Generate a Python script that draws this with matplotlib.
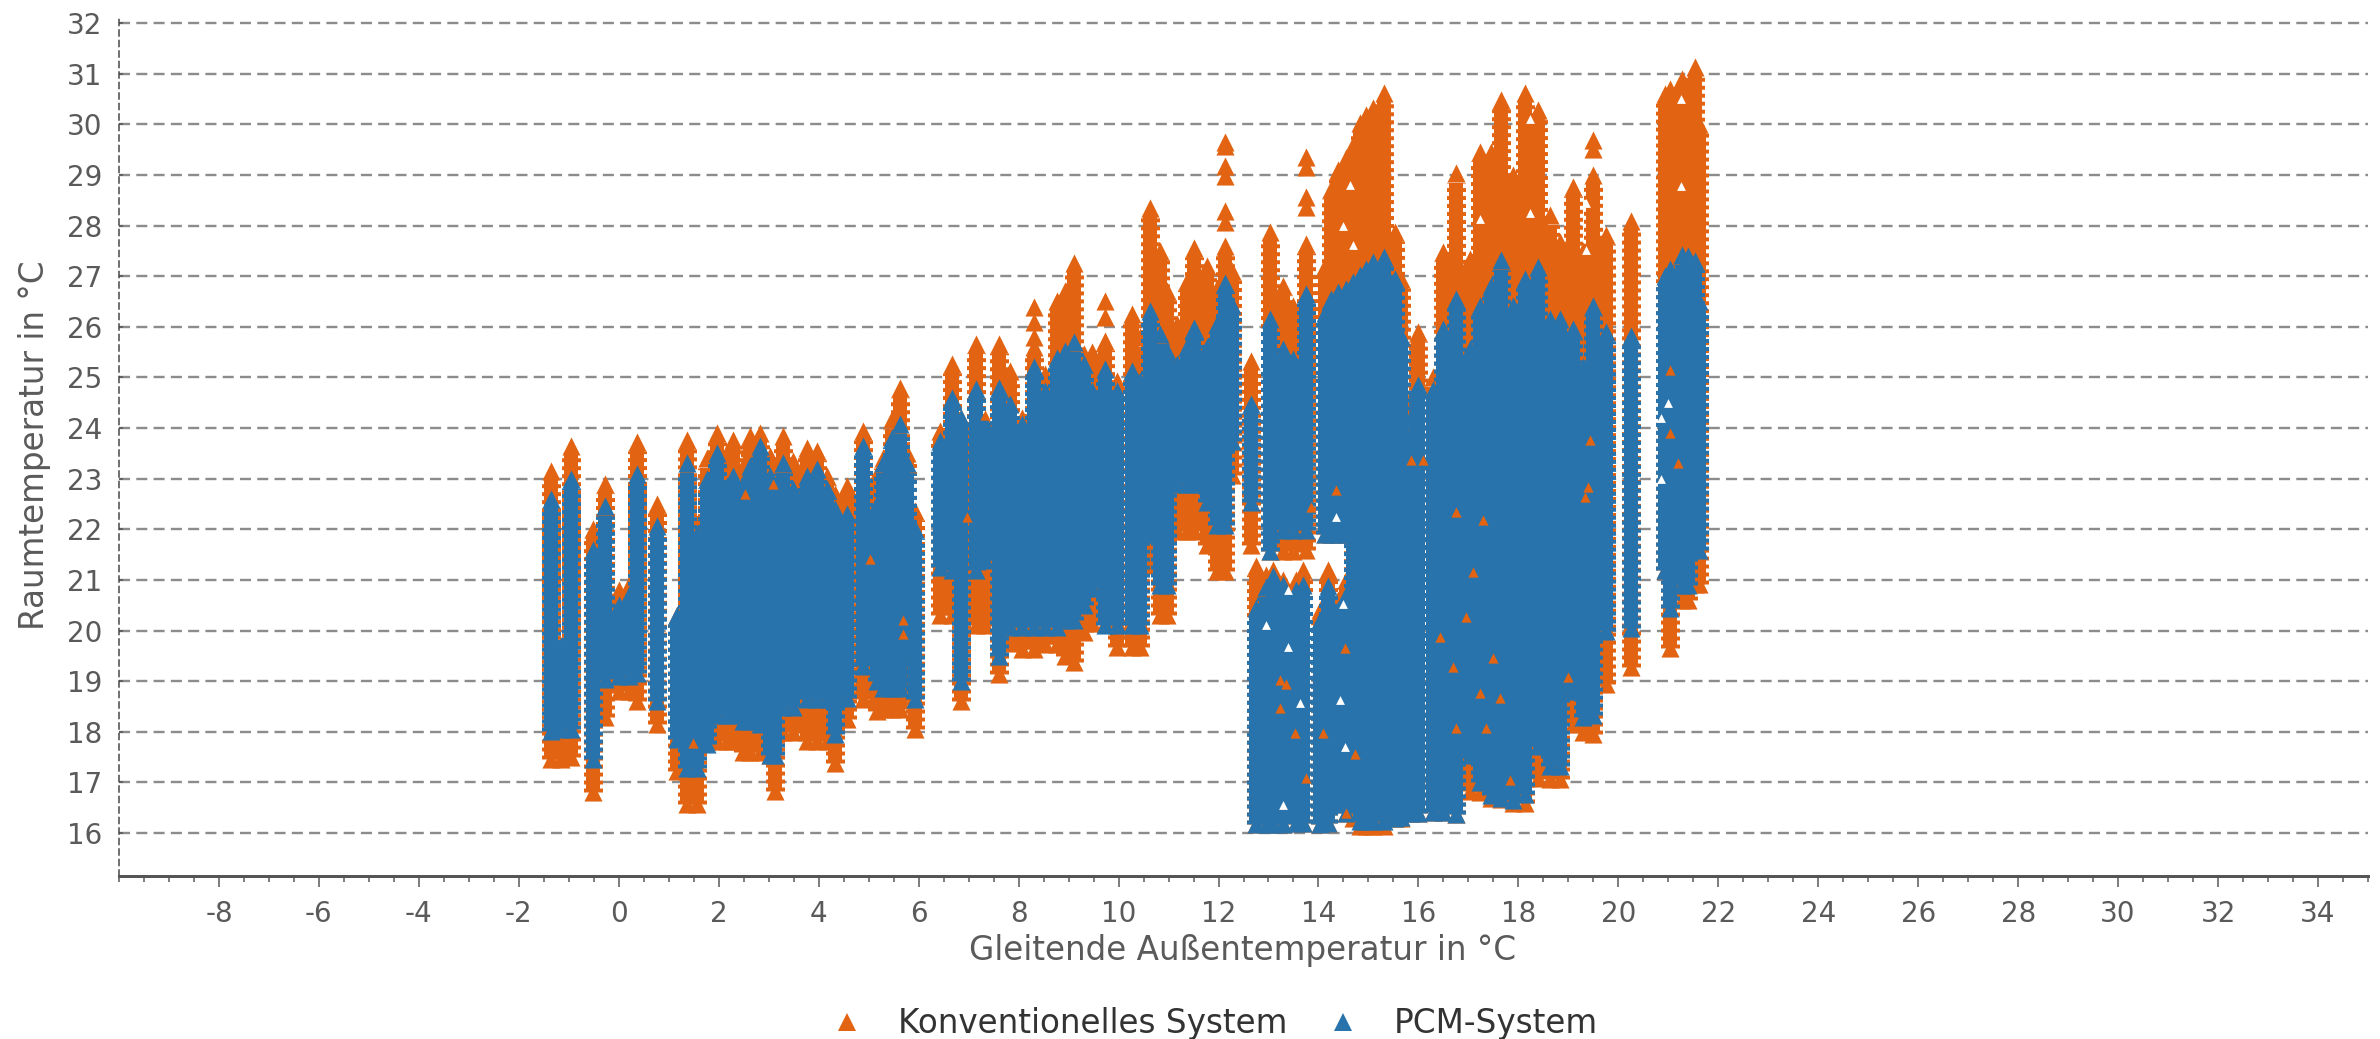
# Raumtemperatur vs. gleitende Aussentemperatur, PCM-System and konventionelles System
#
# Usage: python3 plot.py
#

import matplotlib
matplotlib.use('Agg')
import matplotlib.pyplot as plt
from matplotlib.lines import Line2D
from matplotlib.ticker import MultipleLocator

col_x = [-1.36, -1.16, -0.96, -0.51, -0.28, 0.0, 0.2, 0.36, 0.76, 1.16,
         1.36, 1.56, 1.76, 1.96, 2.16, 2.29, 2.49, 2.62, 2.82, 3.02,
         3.12, 3.29, 3.49, 3.76, 3.96, 4.16, 4.33, 4.56, 4.89, 5.16,
         5.29, 5.46, 5.62, 5.76, 5.93,
         6.43, 6.66, 6.84, 7.15, 7.33, 7.6, 7.83, 8.06, 8.3, 8.53,
         8.76, 8.93, 9.1, 9.3, 9.46, 9.73, 9.96, 10.26, 10.43, 10.63,
         10.83, 10.97, 11.16, 11.36, 11.5, 11.76, 11.96, 12.13, 12.26, 12.66,
         13.03, 13.3, 13.5, 13.76, 14.13, 14.26, 14.4, 14.56,
         12.76, 12.96, 13.1, 13.3, 13.55, 13.7, 14.03, 14.2, 14.4,
         14.7, 14.83, 14.96, 15.1, 15.31, 15.53, 15.66, 15.85, 16.0, 16.3,
         16.5, 16.75, 17.03, 17.23, 17.46, 17.66, 17.9, 18.13, 18.4, 18.63,
         18.83, 19.1, 19.3, 19.5, 19.76, 20.26, 20.93, 21.03, 21.27, 21.4,
         21.53, 21.62, 14.56]

orange_top = [23.15, 19.7, 23.64, 22.0, 22.9, 20.8, 20.9, 23.72, 22.5, 20.3,
              23.77, 22.1, 23.4, 23.91, 23.5, 23.77, 23.25, 23.84, 23.91, 23.45,
              23.0, 23.84, 23.35, 23.6, 23.55, 23.05, 22.7, 22.85, 23.94, 23.1,
              23.4, 24.17, 24.8, 23.5, 22.36,
              23.94, 25.26, 24.2, 25.66, 24.14, 25.66, 25.13, 24.2, 25.6, 25.06,
              26.51, 26.7, 27.27, 25.46, 25.5, 25.72, 24.93, 26.25, 25.79, 28.35,
              27.5, 26.7, 26.05, 26.9, 27.56, 27.2, 26.77, 27.6, 27.1, 25.33,
              27.87, 26.81, 26.42, 27.64, 27.21, 28.73, 29.1, 29.33,
              21.27, 21.1, 21.2, 21.0, 21.0, 21.2, 20.4, 21.2, 20.6,
              29.6, 30.02, 30.19, 30.32, 30.62, 27.87, 26.95, 24.6, 25.89, 25.0,
              27.48, 29.03, 27.34, 29.46, 29.46, 30.49, 29.0, 30.62, 30.29, 28.2,
              27.67, 28.77, 27.5, 29.0, 27.82, 28.1, 30.6, 30.7, 30.9, 30.5,
              31.13, 30.0, 21.0]

orange_low = [17.46, 17.46, 17.5, 16.8, 18.3, 18.8, 18.8, 18.6, 18.15, 17.23,
              16.57, 16.57, 17.82, 17.82, 17.82, 17.82, 17.59, 17.59, 17.6, 17.55,
              16.83, 18.0, 18.0, 17.82, 17.82, 17.82, 17.39, 18.25, 18.64, 18.4,
              18.44, 18.44, 18.44, 19.6, 18.05,
              20.3, 20.3, 18.6, 20.1, 20.1, 19.15, 19.75, 19.63, 19.63, 19.73,
              19.73, 19.5, 19.38, 19.98, 20.15, 20.15, 19.68, 19.68, 19.68, 21.3,
              20.3, 20.3, 21.97, 21.97, 21.97, 21.68, 21.18, 21.18, 23.08, 21.68,
              21.58, 21.58, 21.58, 21.6, 21.9, 21.9, 21.9, 21.9,
              16.18, 16.18, 16.18, 16.18, 16.2, 16.2, 16.18, 16.2, 16.6,
              16.3, 16.14, 16.14, 16.14, 16.14, 16.3, 16.3, 16.4, 16.4, 16.42,
              16.42, 16.38, 16.83, 16.8, 16.7, 16.68, 16.6, 16.6, 17.09, 17.06,
              17.06, 18.15, 18.0, 17.96, 18.94, 19.27, 21.2, 19.66, 20.6, 20.6,
              20.91, 20.91, 16.4]

blue_top = [22.6, 19.7, 23.0, 21.6, 22.45, 20.5, 20.7, 23.1, 22.06, 20.3,
            23.3, 21.9, 23.0, 23.51, 22.85, 23.05, 22.9, 23.25, 23.64, 23.05,
            22.8, 23.3, 22.8, 23.05, 23.2, 22.8, 22.4, 22.3, 23.64, 22.5,
            23.3, 23.8, 24.07, 23.3, 22.0,
            23.75, 24.6, 24.2, 24.77, 24.1, 24.8, 24.47, 24.08, 25.2, 24.73,
            25.39, 25.52, 25.69, 25.26, 24.73, 25.16, 24.73, 25.13, 24.93, 26.31,
            25.85, 25.52, 25.26, 25.6, 25.98, 25.6, 26.05, 26.87, 26.44, 24.47,
            26.15, 25.56, 25.36, 26.65, 26.28, 26.55, 26.68, 26.75,
            20.45, 20.85, 21.08, 20.9, 20.8, 20.9, 20.2, 20.88, 20.4,
            26.88, 27.02, 27.15, 27.28, 27.38, 26.95, 25.82, 24.15, 24.86, 24.75,
            25.95, 26.55, 25.56, 26.42, 26.81, 27.31, 26.42, 26.95, 27.18, 26.15,
            26.15, 25.95, 25.2, 26.42, 25.89, 25.82, 27.0, 27.14, 27.41, 27.4,
            27.3, 26.5, 20.7]

blue_low = [18.02, 18.05, 18.05, 17.46, 19.05, 19.1, 19.1, 19.17, 18.6, 17.85,
            17.29, 17.29, 17.75, 18.34, 18.34, 18.34, 18.21, 18.21, 18.15, 17.55,
            17.55, 18.48, 18.48, 18.64, 18.64, 18.64, 17.95, 18.67, 19.3, 19.0,
            18.87, 18.87, 18.87, 19.6, 18.64,
            21.25, 21.2, 19.0, 21.2, 21.4, 19.5, 20.06, 20.06, 20.06, 20.06,
            20.06, 20.2, 20.2, 20.5, 20.83, 20.1, 20.1, 20.1, 20.1, 21.9,
            20.9, 20.9, 22.9, 22.9, 22.9, 22.53, 22.08, 22.08, 23.75, 22.53,
            21.58, 21.98, 21.98, 21.98, 21.9, 21.9, 21.9, 21.9,
            16.18, 16.18, 16.18, 16.18, 16.2, 16.2, 16.18, 16.2, 16.6,
            16.6, 16.24, 16.24, 16.24, 16.24, 16.3, 16.32, 16.4, 16.4, 16.42,
            16.42, 16.38, 17.55, 17.0, 16.75, 16.7, 16.65, 16.77, 17.72, 17.32,
            17.32, 18.81, 18.3, 18.34, 19.99, 20.05, 21.2, 20.45, 20.9, 20.9,
            22.5, 21.6, 16.4]

# Orange triangles that stand clear above the columns
lone_x = [8.3, 8.3, 8.3, 9.73, 9.73, 12.13, 12.13, 12.13, 12.13, 12.13,
          12.13, 13.76, 13.76, 13.76, 13.76, 19.5, 19.5]
lone_y = [26.4, 26.1, 25.8, 26.5, 26.2, 29.65, 29.57, 29.17, 28.98, 28.28,
          28.08, 29.36, 29.16, 28.57, 28.37, 29.69, 29.52]

# Bits of orange that show through the blue
spot_x = [17.3, 16.76, 17.1, 16.96, 16.43, 16.7, 17.5, 19.4, 19.33, 19.43,
          15.86, 16.1, 14.36, 13.86, 13.63, 12.83, 13.53, 14.1, 13.23, 14.53,
          13.23, 13.36, 14.73, 13.76, 14.56, 18.99, 17.83, 17.23, 17.63, 16.76,
          17.36, 5.69, 5.69, 5.03, 2.52, 3.09, 1.49, 6.96, 7.33, 21.03,
          21.03, 21.2]
spot_y = [22.18, 22.34, 21.16, 20.27, 19.87, 19.28, 19.45, 22.84, 22.64, 23.76,
          23.36, 23.36, 22.77, 22.44, 21.65, 21.05, 17.97, 17.97, 18.46, 19.65,
          19.02, 18.95, 17.57, 17.08, 16.39, 19.09, 17.05, 18.76, 18.66, 18.07,
          18.07, 19.94, 20.2, 21.42, 22.7, 22.9, 17.77, 22.25, 24.26, 25.15,
          23.9, 23.3]

# Holes in the cloud where no point lies
hole_x = [14.63, 14.5, 14.7, 21.26, 21.26, 19.36, 19.36, 17.23, 18.23, 18.23,
          14.36, 14.43, 14.5, 13.4, 13.4, 12.96, 13.63, 14.53, 13.3, 21.0, 20.85, 20.85]
hole_y = [28.81, 27.99, 27.62, 28.78, 30.5, 27.52, 28.45, 28.12, 28.25, 30.1,
          22.24, 18.62, 20.53, 19.68, 20.8, 20.1, 18.56, 17.7, 16.55, 24.5, 24.2, 23.0]

y_ticks = list(range(16, 33))
x_ticks = list(range(-8, 35, 2))

orange = '#e26412'
blue = '#2873ab'
text_grey = '#5a5a5a'

plt.rcParams['font.family'] = 'DejaVu Sans'
plt.rcParams['axes.unicode_minus'] = False
px = 0.72  # one pixel in points at dpi 100
half_marker = 0.18  # half the marker height in degrees
teeth = (0, (0.21, 0.21))  # stair-step edge of the stacked triangles

fig = plt.figure(figsize=(23.8, 10.39), dpi=100)
ax = fig.add_axes([119 / 2380, 1 - 876 / 1039, (2368 - 119) / 2380, (876 - 15) / 1039])


def draw_columns(top, low, colour, z):
    # body of the column stops under the tip marker
    body_top = [t - half_marker for t in top]
    ax.vlines(col_x, low, body_top, color=colour, lw=14 * px, capstyle='butt', zorder=z)
    ax.vlines(col_x, low, body_top, color=colour, lw=19 * px, linestyle=teeth, capstyle='butt', zorder=z)
    ax.scatter(col_x, top, marker='^', s=170, color=colour, linewidths=0, zorder=z)
    ax.scatter(col_x, low, marker='^', s=170, color=colour, linewidths=0, zorder=z)


draw_columns(orange_top, orange_low, orange, 3)
ax.scatter(lone_x, lone_y, marker='^', s=170, color=orange, linewidths=0, zorder=3)
draw_columns(blue_top, blue_low, blue, 4)

ax.scatter(spot_x, spot_y, marker='^', s=55, color=orange, linewidths=0, zorder=5)
ax.scatter(hole_x, hole_y, marker='^', s=40, color='white', linewidths=0, zorder=5)

ax.set_xlim(-10, 35)
ax.set_ylim(15.15, 32.16)
ax.set_xticks(x_ticks)
ax.set_yticks(y_ticks)
ax.xaxis.set_minor_locator(MultipleLocator(0.5))
ax.tick_params(axis='x', which='major', length=11 * px, width=1.5 * px, color='#555555',
               labelsize=20, labelcolor=text_grey, pad=9)
ax.tick_params(axis='x', which='minor', length=6 * px, width=1.5 * px, color='#555555')
ax.tick_params(axis='y', which='major', direction='in', length=4 * px, width=1.5 * px,
               color='#555555', labelsize=20, labelcolor=text_grey, pad=12)

ax.grid(axis='y', color='#8c8c8c', lw=2.4 * px, linestyle=(0, (4.6, 2.6)), zorder=1)
ax.set_axisbelow(True)

ax.spines['top'].set_visible(False)
ax.spines['right'].set_visible(False)
ax.spines['left'].set_linestyle((0, (4, 3)))
ax.spines['left'].set_linewidth(1.5 * px)
ax.spines['left'].set_color('#444444')
ax.spines['bottom'].set_linewidth(3 * px)
ax.spines['bottom'].set_color('#555555')

ax.set_xlabel('Gleitende Außentemperatur in °C', fontsize=23.5, color=text_grey)
ax.xaxis.set_label_coords(0.4995, -0.0676)
ax.set_ylabel('Raumtemperatur in °C', fontsize=23.5, color=text_grey)
ax.yaxis.set_label_coords(-0.0302, 0.5)

# Legend below the plot
handles = [Line2D([], [], linestyle='none', marker='^', markersize=13, color=orange, markeredgewidth=0),
           Line2D([], [], linestyle='none', marker='^', markersize=13, color=blue, markeredgewidth=0)]
fig.legend(handles, ['Konventionelles System', 'PCM-System'], loc='center',
           bbox_to_anchor=(1206 / 2380, 1 - 1024 / 1039), ncol=2, frameon=False, fontsize=23.5,
           labelcolor='#333333', handletextpad=0.56, columnspacing=0.7)

plt.savefig('out.png', dpi=100)
